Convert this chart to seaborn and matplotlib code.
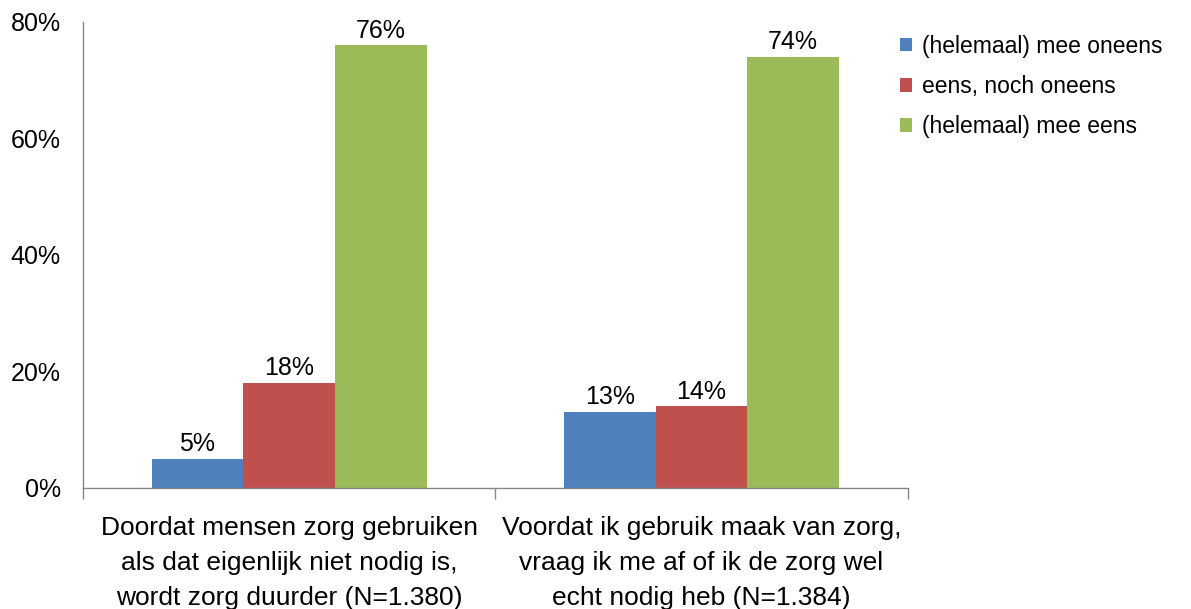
import matplotlib
matplotlib.use("Agg")
import matplotlib.pyplot as plt
import seaborn as sns
import pandas as pd
from matplotlib.patches import Patch
from matplotlib.ticker import FixedLocator

categories = ["Doordat mensen zorg gebruiken\nals dat eigenlijk niet nodig is,\nwordt zorg duurder (N=1.380)",
              "Voordat ik gebruik maak van zorg,\nvraag ik me af of ik de zorg wel\necht nodig heb (N=1.384)"]
series = ["(helemaal) mee oneens", "eens, noch oneens", "(helemaal) mee eens"]
values = {
    "(helemaal) mee oneens": [5, 13],
    "eens, noch oneens": [18, 14],
    "(helemaal) mee eens": [76, 74],
}
colors = ["#4F81BD", "#C0504D", "#9BBB59"]
yticks = [0, 20, 40, 60, 80]

rows = []
for s in series:
    for c, v in zip(categories, values[s]):
        rows.append({"cat": c, "series": s, "val": v})
df = pd.DataFrame(rows)

sns.set_theme(style="white")
plt.rcParams['font.family'] = ['Liberation Sans', 'DejaVu Sans']
plt.rcParams['text.color'] = 'black'
plt.rcParams['xtick.color'] = 'black'
plt.rcParams['ytick.color'] = 'black'

fig = plt.figure(figsize=(11.91, 6.09), dpi=100)
ax = fig.add_axes([0.0697, 0.1987, 0.6923, 0.7652])

sns.barplot(data=df, x="cat", y="val", hue="series", order=categories,
            hue_order=series, palette=colors, width=0.667, saturation=1,
            ax=ax, legend=False, errorbar=None, linewidth=0)

for cont in ax.containers:
    ax.bar_label(cont, labels=[f"{v:.0f}%" for v in cont.datavalues],
                 fontsize=18, padding=2, color="black")

ax.set_ylim(0, 80)
ax.set_xlim(-0.5, 1.5)
ax.set_yticks(yticks)
ax.set_yticklabels([f"{t}%" for t in yticks], fontsize=18)
ax.set_xlabel("")
ax.set_ylabel("")
ax.set_xticks(range(len(categories)))
ax.set_xticklabels(categories, fontsize=19, linespacing=1.58)
ax.xaxis.set_minor_locator(FixedLocator([-0.5, 0.5, 1.5]))
ax.tick_params(axis="x", which="major", length=0, pad=20)
ax.tick_params(axis="x", which="minor", length=8, color="#868686", width=1, direction="out", bottom=True)
ax.tick_params(axis="y", length=7, color="#868686", width=1, direction="out", pad=9, labelcolor="black")
for s in ["top", "right"]:
    ax.spines[s].set_visible(False)
for s in ["left", "bottom"]:
    ax.spines[s].set_color("#868686")
    ax.spines[s].set_linewidth(1)

handles = [Patch(facecolor=c, edgecolor="none") for c in colors]
fig.legend(handles, series, loc="upper left", bbox_to_anchor=(0.738, 0.977),
           frameon=False, fontsize=16.5, handlelength=0.55, handleheight=0.55,
           handletextpad=0.45, labelspacing=0.76)

fig.savefig("out.png", dpi=100)
